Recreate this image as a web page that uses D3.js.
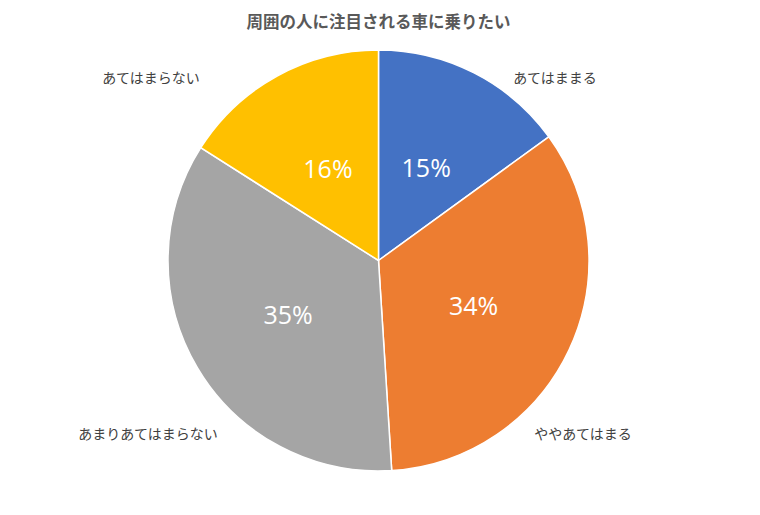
<!DOCTYPE html>
<html><head><meta charset="utf-8">
<script src="https://cdn.jsdelivr.net/npm/d3@7"></script>
<style>
html,body{margin:0;padding:0;background:#fff;}
svg{display:block;}
</style></head>
<body>
<svg id="chart" width="760" height="515"></svg>
<script>
const title = "周囲の人に注目される車に乗りたい";
const categories = ["あてはままる", "ややあてはまる", "あまりあてはまらない", "あてはまらない"];
const values = [15, 34, 35, 16];
const colors = ["#4472C4", "#ED7D31", "#A5A5A5", "#FFC000"];
// outer category label anchor points (layout)
const labelPos = [[555, 77], [583, 433], [148, 433], [151, 77]];

const svg = d3.select("#chart");
const cx = 378.5, cy = 260.5, R = 210.5;
const jp = "'Noto Sans CJK JP','Noto Sans',sans-serif";

svg.append("text").attr("x", 378.5).attr("y", 21).attr("text-anchor", "middle")
  .attr("dominant-baseline", "central")
  .style("font-family", jp).style("font-size", "16.5px").style("font-weight", "bold")
  .style("fill", "#595959").text(title);

const pie = d3.pie().sort(null).value(d => d)(values);
const arc = d3.arc().innerRadius(0).outerRadius(R);
const labelArc = d3.arc().innerRadius(105).outerRadius(105);
const total = d3.sum(values);
const fmt = d3.format(".0%");

const g = svg.append("g").attr("transform", `translate(${cx},${cy})`);
g.selectAll("path").data(pie).join("path")
  .attr("d", arc).attr("fill", (d, i) => colors[i])
  .attr("stroke", "#fff").attr("stroke-width", 1.5);

g.selectAll("text.pct").data(pie).join("text").attr("class", "pct")
  .attr("transform", d => `translate(${labelArc.centroid(d)})`)
  .attr("text-anchor", "middle").attr("dominant-baseline", "central")
  .style("font-family", "'Open Sans',sans-serif").style("font-size", "25px")
  .style("fill", "#fff").text(d => fmt(d.value / total));

svg.selectAll("text.cat").data(categories).join("text").attr("class", "cat")
  .attr("x", (d, i) => labelPos[i][0]).attr("y", (d, i) => labelPos[i][1])
  .attr("text-anchor", "middle").attr("dominant-baseline", "central")
  .style("font-family", jp).style("font-size", "14px")
  .style("fill", "#404040").text(d => d);
</script>
</body></html>
